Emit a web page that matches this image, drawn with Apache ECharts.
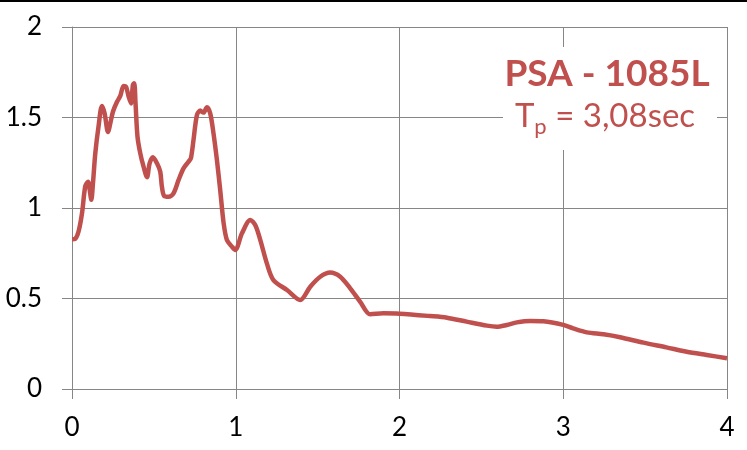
<!DOCTYPE html>
<html>
<head>
<meta charset="utf-8">
<script src="https://cdn.jsdelivr.net/npm/echarts@6/dist/echarts.min.js"></script>
<style>
html,body{margin:0;padding:0;background:#fff;}
#chart{width:747px;height:450px;}
</style>
</head>
<body>
<div id="chart"></div>
<script>
// Period (s)
var periods = [0, 0.02, 0.04, 0.061, 0.081, 0.098, 0.108, 0.118, 0.128, 0.142, 0.162, 0.183, 0.199, 0.22, 0.234, 0.25, 0.275, 0.295, 0.315, 0.33, 0.346, 0.36, 0.372, 0.38, 0.388, 0.40, 0.417, 0.437, 0.458, 0.474, 0.494, 0.519, 0.539, 0.549, 0.563, 0.59, 0.62, 0.651, 0.681, 0.712, 0.726, 0.742, 0.763, 0.783, 0.803, 0.824, 0.844, 0.864, 0.885, 0.905, 0.926, 0.946, 0.977, 0.997, 1.038, 1.089, 1.119, 1.15, 1.19, 1.23, 1.313, 1.394, 1.455, 1.516, 1.577, 1.638, 1.699, 1.76, 1.821, 1.902, 2.0, 2.187, 2.29, 2.41, 2.534, 2.594, 2.655, 2.717, 2.798, 2.879, 3.0, 3.06, 3.144, 3.246, 3.347, 3.49, 3.63, 3.754, 3.876, 4.0];
// Pseudo spectral acceleration
var psa = [0.827, 0.83, 0.87, 0.97, 1.12, 1.145, 1.10, 1.045, 1.136, 1.30, 1.45, 1.563, 1.523, 1.42, 1.468, 1.532, 1.587, 1.619, 1.674, 1.67, 1.615, 1.578, 1.68, 1.689, 1.578, 1.394, 1.302, 1.228, 1.17, 1.247, 1.28, 1.247, 1.20, 1.118, 1.066, 1.062, 1.081, 1.155, 1.219, 1.256, 1.275, 1.376, 1.514, 1.538, 1.527, 1.556, 1.523, 1.413, 1.265, 1.10, 0.916, 0.823, 0.786, 0.768, 0.86, 0.934, 0.906, 0.823, 0.694, 0.602, 0.547, 0.492, 0.565, 0.62, 0.643, 0.62, 0.556, 0.482, 0.413, 0.418, 0.416, 0.403, 0.394, 0.372, 0.35, 0.344, 0.354, 0.368, 0.376, 0.374, 0.354, 0.335, 0.313, 0.302, 0.286, 0.256, 0.23, 0.206, 0.188, 0.17];
var xTicks = [0, 1, 2, 3, 4];
var yTicks = [0, 0.5, 1, 1.5, 2];
var titleMain = 'PSA - 1085L';
var titleSubT = 'T';
var titleSubP = 'p';
var titleSubRest = ' = 3,08sec';

var data = periods.map(function (p, i) { return [p, psa[i]]; });
var red = '#C0504D';
var grey = '#868686';
var font = 'Lato, "Open Sans", sans-serif';

var chart = echarts.init(document.getElementById('chart'), null, {renderer: 'canvas'});
chart.setOption({
  animation: false,
  backgroundColor: '#fff',
  grid: {left: 72, right: 20, top: 27, bottom: 61, containLabel: false},
  xAxis: {
    type: 'value', min: xTicks[0], max: xTicks[xTicks.length - 1], interval: 1,
    axisLine: {show: true, lineStyle: {color: grey, width: 1}},
    axisTick: {show: true, length: 10, lineStyle: {color: grey}},
    splitLine: {show: true, lineStyle: {color: grey, width: 1}},
    axisLabel: {color: '#000', fontSize: 26, fontFamily: font, margin: 26,
      formatter: function (v) { return String(v); }}
  },
  yAxis: {
    type: 'value', min: yTicks[0], max: yTicks[yTicks.length - 1], interval: 0.5,
    axisLine: {show: true, lineStyle: {color: grey, width: 1}},
    axisTick: {show: true, length: 10, lineStyle: {color: grey}},
    splitLine: {show: true, lineStyle: {color: grey, width: 1}},
    axisLabel: {color: '#000', fontSize: 26, fontFamily: font, margin: 30,
      formatter: function (v) { return String(v); }}
  },
  series: [{
    type: 'line', data: data, showSymbol: false, smooth: 0.3,
    lineStyle: {color: red, width: 4.5}, z: 3
  }],
  graphic: [
    {type: 'rect', x: 0, y: 0, shape: {width: 747, height: 2}, style: {fill: '#000'}, z: 100},
    {type: 'rect', x: 503, y: 47, shape: {width: 214, height: 103}, style: {fill: '#fff'}, z: 50},
    {type: 'text', x: 607, y: 56, z: 60,
      style: {text: titleMain, fill: red, font: 'bold 37px ' + font, textAlign: 'center', textVerticalAlign: 'top'}},
    {type: 'text', x: 605, y: 100, z: 60,
      style: {
        text: '{a|' + titleSubT + '}{s|' + titleSubP + '}{a|' + titleSubRest + '}',
        textAlign: 'center', textVerticalAlign: 'top',
        rich: {
          a: {fill: red, fontSize: 33, fontFamily: font, verticalAlign: 'top', lineHeight: 40},
          s: {fill: red, fontSize: 22, fontFamily: font, verticalAlign: 'top', lineHeight: 40, padding: [16, 0, 0, 0]}
        }
      }}
  ]
});
</script>
</body>
</html>
